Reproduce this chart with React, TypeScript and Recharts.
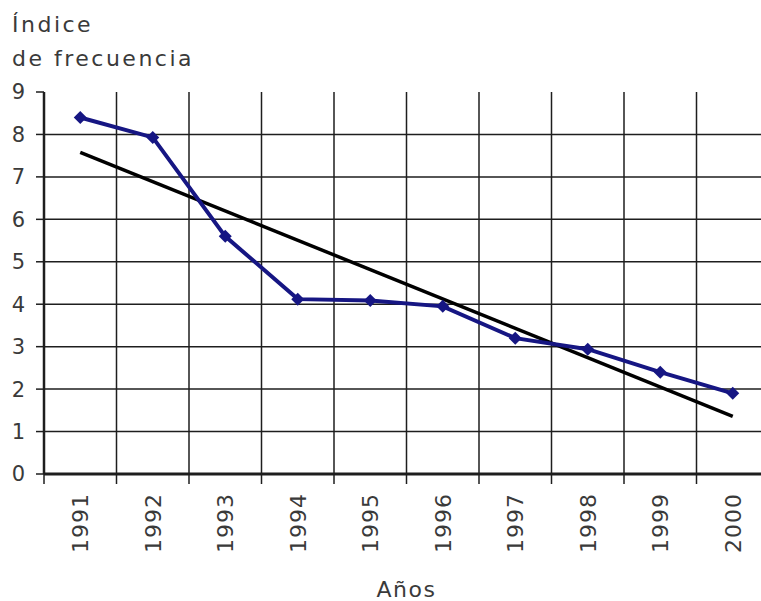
import { LineChart, Line, XAxis, YAxis, CartesianGrid } from "recharts"

const years = ["1991", "1992", "1993", "1994", "1995", "1996", "1997", "1998", "1999", "2000"]
const indice = [8.4, 7.93, 5.6, 4.12, 4.09, 3.95, 3.2, 2.94, 2.4, 1.9]
// trend line at both ends
const trend = [7.58, null, null, null, null, null, null, null, null, 1.36]
const yTicks = [0, 1, 2, 3, 4, 5, 6, 7, 8, 9]
const gridYTicks = [1, 2, 3, 4, 5, 6, 7, 8]

const data = years.map((year, i) => ({ year, indice: indice[i], trend: trend[i] }))

const INK = "#1e1e1e"
const TEXT = "#3a3a3a"
const NAVY = "#161683"
const FONT = "'DejaVu Sans', Verdana, sans-serif"
const PLOT_W = 725

const Diamond = (props: any) => {
    const { cx, cy } = props
    if (cx == null || cy == null) return null
    const r = 6.5
    return (
        <polygon
            points={`${cx},${cy - r} ${cx + r},${cy} ${cx},${cy + r} ${cx - r},${cy}`}
            fill={NAVY}
        />
    )
}

const YearTick = (props: any) => {
    const { x, y, payload } = props
    const half = PLOT_W / years.length / 2
    const ty = y + 19
    return (
        <g>
            <line x1={x - half} x2={x - half} y1={y} y2={y + 10} stroke={INK} strokeWidth={1.5} />
            <text
                x={x}
                y={ty}
                dy="0.36em"
                transform={`rotate(-90 ${x} ${ty})`}
                textAnchor="end"
                fontSize={22}
                letterSpacing={1}
                fill={TEXT}
                fontFamily={FONT}
            >
                {payload.value}
            </text>
        </g>
    )
}

const verticalLines = ({ xAxis, offset }: any) => {
    if (xAxis && typeof xAxis.scale === "function") {
        return years.map((y) => xAxis.scale(y))
    }
    return years.map((_, i) => offset.left + (i * offset.width) / years.length)
}

const horizontalLines = ({ yAxis, offset }: any) => {
    if (yAxis && typeof yAxis.scale === "function") {
        return gridYTicks.map((v) => yAxis.scale(v))
    }
    return gridYTicks.map((v) => offset.top + offset.height * (1 - v / 9))
}

export default function App() {
    return (
        <div
            style={{
                position: "absolute",
                left: 0,
                top: 0,
                width: 761,
                height: 601,
                overflow: "hidden",
                background: "#fff",
                fontFamily: FONT,
            }}
        >
            <div
                style={{
                    position: "absolute",
                    left: 12,
                    top: 8,
                    fontSize: 22,
                    lineHeight: "34px",
                    letterSpacing: 2.5,
                    color: TEXT,
                }}
            >
                Índice
                <br />
                de frecuencia
            </div>
            <LineChart
                width={770}
                height={601}
                data={data}
                margin={{ top: 92, right: 1, bottom: 0, left: 0 }}
                style={{ fontFamily: FONT }}
            >
                <CartesianGrid
                    stroke={INK}
                    strokeWidth={1.5}
                    verticalCoordinatesGenerator={verticalLines}
                    horizontalCoordinatesGenerator={horizontalLines}
                />
                <XAxis
                    dataKey="year"
                    scale="band"
                    height={127}
                    tickSize={0}
                    tickMargin={0}
                    interval={0}
                    axisLine={{ stroke: INK, strokeWidth: 3 }}
                    tickLine={false}
                    tick={<YearTick />}
                    label={{
                        value: "Años",
                        position: "insideBottom",
                        offset: 4,
                        fontSize: 22,
                        fill: TEXT,
                        letterSpacing: 1.5,
                    }}
                />
                <YAxis
                    type="number"
                    domain={[0, 9]}
                    ticks={yTicks}
                    width={44}
                    tickSize={8}
                    tickMargin={11}
                    axisLine={{ stroke: INK, strokeWidth: 2.5 }}
                    tickLine={{ stroke: INK, strokeWidth: 1.5 }}
                    tick={{ fontSize: 21, fill: TEXT, fontFamily: FONT }}
                />
                <Line
                    dataKey="trend"
                    stroke="#000"
                    strokeWidth={3.5}
                    dot={false}
                    connectNulls
                    isAnimationActive={false}
                />
                <Line
                    dataKey="indice"
                    stroke={NAVY}
                    strokeWidth={4}
                    dot={<Diamond />}
                    activeDot={false}
                    isAnimationActive={false}
                />
            </LineChart>
        </div>
    )
}
